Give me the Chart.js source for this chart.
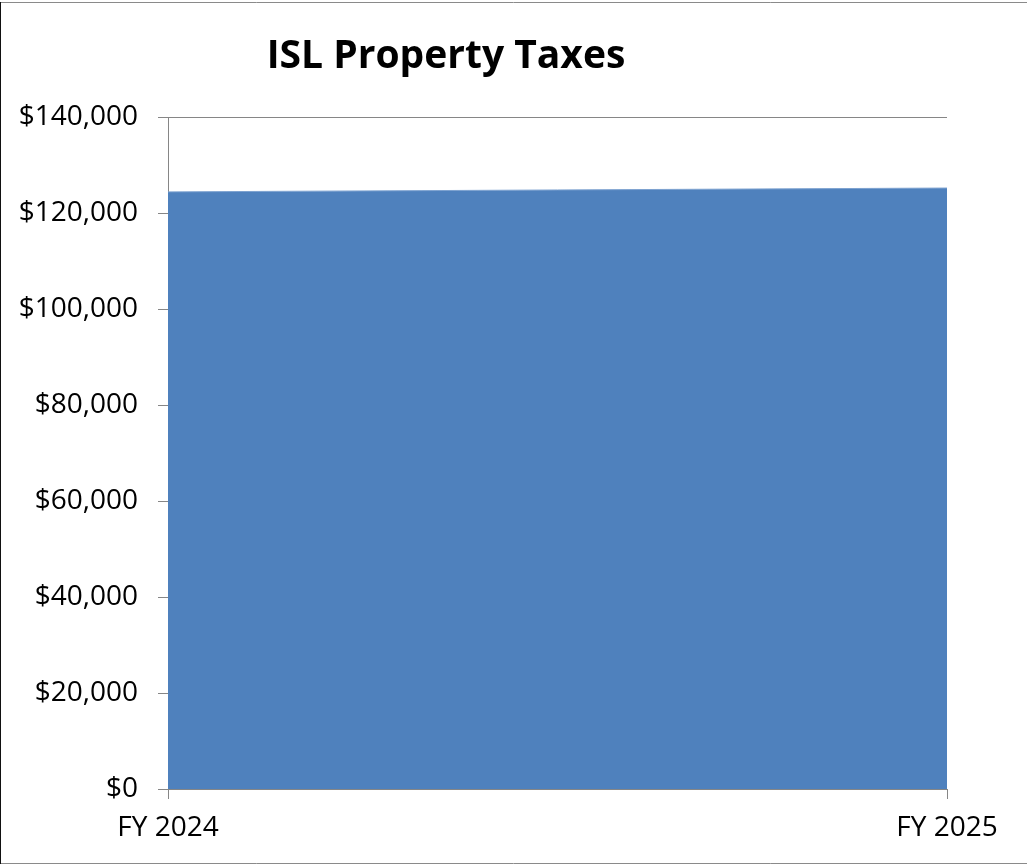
<!DOCTYPE html>
<html lang="en">
<head>
  <meta charset="UTF-8">
  <title>ISL Property Taxes</title>
  <script src="https://cdn.jsdelivr.net/npm/chart.js"></script>
  <style>
    body {
      margin: 0;
      padding: 0;
      background-color: #ffffff;
    }
    .chart-container {
      position: relative;
      width: 1027px;
      height: 865px;
    }
  </style>
</head>
<body>
  <div class="chart-container">
    <canvas id="taxChart"></canvas>
  </div>

  <script>
    // Chart data
    const years = ['FY 2024', 'FY 2025'];
    const taxes = [124400, 125200];

    const chartTitle = 'ISL Property Taxes';
    const fontFamily = "'Open Sans', 'Noto Sans', sans-serif";
    const gridColor = '#868686';

    // Title and outer frame, drawn like the original sheet export
    const frameAndTitle = {
      id: 'frameAndTitle',
      afterDraw(chart) {
        const ctx = chart.ctx;
        ctx.save();
        ctx.fillStyle = '#000000';
        ctx.font = "bold 39px " + fontFamily;
        ctx.textAlign = 'center';
        ctx.textBaseline = 'alphabetic';
        ctx.fillText(chartTitle, 446, 68);

        ctx.lineWidth = 1;
        ctx.strokeStyle = '#8a8a8a';
        ctx.beginPath();
        ctx.moveTo(0, 2.5);
        ctx.lineTo(chart.width, 2.5);
        ctx.moveTo(0, chart.height - 1.5);
        ctx.lineTo(chart.width, chart.height - 1.5);
        ctx.stroke();
        ctx.strokeStyle = '#111111';
        ctx.beginPath();
        ctx.moveTo(0.5, 2);
        ctx.lineTo(0.5, chart.height - 1);
        ctx.stroke();
        ctx.restore();
      }
    };

    const ctx = document.getElementById('taxChart').getContext('2d');
    const taxChart = new Chart(ctx, {
      type: 'line',
      data: {
        labels: years,
        datasets: [{
          label: chartTitle,
          data: taxes,
          fill: 'origin',
          backgroundColor: '#4f81bd',
          borderColor: '#7da2d0',
          borderWidth: 1,
          pointRadius: 0,
          tension: 0
        }]
      },
      options: {
        responsive: true,
        maintainAspectRatio: false,
        animation: false,
        layout: {
          padding: { top: 117, right: 80, bottom: 0, left: 0 }
        },
        plugins: {
          legend: { display: false },
          title: { display: false },
          tooltip: { enabled: false }
        },
        scales: {
          x: {
            offset: false,
            afterFit: scale => { scale.height = 76; },
            grid: {
              drawOnChartArea: false,
              drawTicks: true,
              tickLength: 10,
              color: gridColor
            },
            border: { display: true, color: gridColor },
            ticks: {
              color: '#000000',
              padding: 12,
              maxRotation: 0,
              font: { family: fontFamily, size: 28 }
            }
          },
          y: {
            min: 0,
            max: 140000,
            afterFit: scale => { scale.width = 168; },
            grid: {
              drawOnChartArea: true,
              drawTicks: true,
              tickLength: 10,
              color: gridColor
            },
            border: { display: true, color: gridColor },
            ticks: {
              stepSize: 20000,
              color: '#000000',
              padding: 20,
              font: { family: fontFamily, size: 28 },
              callback: value => '$' + value.toLocaleString('en-US')
            }
          }
        }
      },
      plugins: [frameAndTitle]
    });
  </script>
</body>
</html>
